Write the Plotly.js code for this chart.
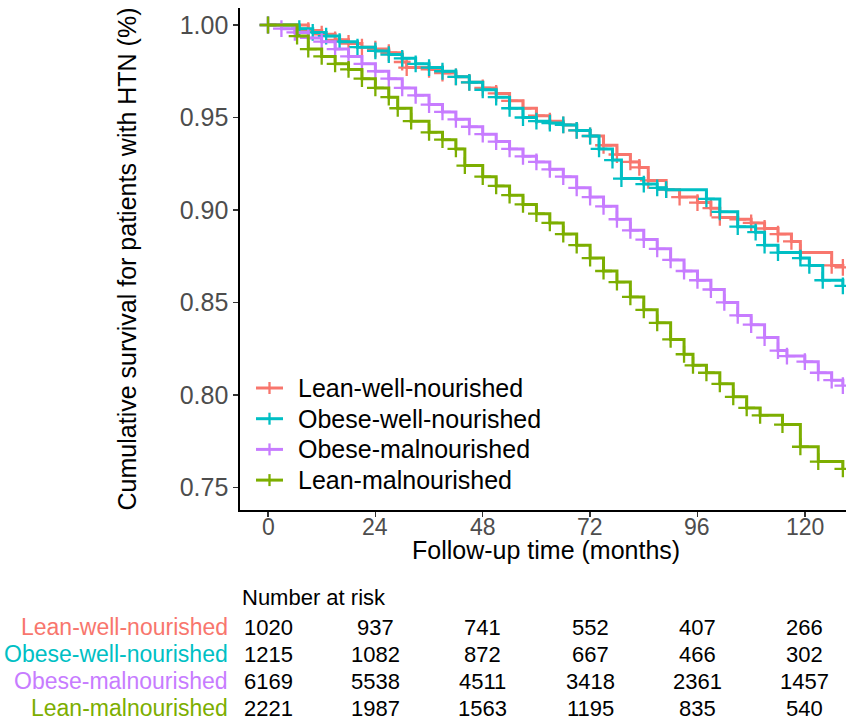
<!DOCTYPE html>
<html>
<head>
<meta charset="utf-8">
<script src="https://cdn.plot.ly/plotly-3.0.1.min.js"></script>
<style>html,body{margin:0;padding:0;background:#fff;}#chart{width:851px;height:720px;}</style>
</head>
<body>
<div id="chart"></div>
<script>
// ---- Data ----
const groupNames = ["Lean-well-nourished", "Obese-well-nourished", "Obese-malnourished", "Lean-malnourished"];
const groupColors = ["#F8766D", "#00BFC4", "#C77CFF", "#7CAE00"];

const leanWellT = [0, 9, 12, 15, 18, 21, 24, 27, 30, 31, 36, 39, 42, 45, 48, 51, 54, 57, 60, 63, 66, 69, 72, 75, 78, 81, 83, 85, 89, 92, 96, 99, 101, 105, 108, 111, 114, 117, 119, 126, 128.5];
const leanWellS = [1.000, 0.997, 0.995, 0.992, 0.990, 0.988, 0.987, 0.985, 0.980, 0.977, 0.976, 0.974, 0.972, 0.969, 0.966, 0.963, 0.959, 0.955, 0.951, 0.948, 0.946, 0.943, 0.940, 0.935, 0.930, 0.926, 0.923, 0.916, 0.911, 0.907, 0.904, 0.901, 0.896, 0.895, 0.893, 0.890, 0.887, 0.883, 0.877, 0.870, 0.869];

const obeseWellT = [0, 7, 10, 13, 16, 20, 24, 27, 30, 33, 36, 39, 42, 45, 48, 51, 54, 57, 60, 63, 66, 69, 72, 74, 77, 79, 84, 87, 89, 98, 101, 105, 109, 111, 114, 119, 121, 124, 128.5];
const obeseWellS = [1.000, 0.998, 0.996, 0.994, 0.991, 0.988, 0.986, 0.984, 0.982, 0.979, 0.977, 0.975, 0.972, 0.969, 0.965, 0.961, 0.955, 0.950, 0.948, 0.947, 0.946, 0.943, 0.940, 0.933, 0.927, 0.917, 0.914, 0.912, 0.911, 0.906, 0.899, 0.891, 0.888, 0.881, 0.877, 0.874, 0.870, 0.862, 0.859];

const obeseMalT = [0, 3, 6, 9, 12, 15, 18, 21, 24, 27, 30, 33, 36, 39, 42, 45, 48, 51, 54, 57, 60, 63, 66, 69, 72, 75, 78, 81, 84, 87, 90, 93, 96, 99, 102, 105, 108, 111, 114, 116, 120, 123, 126, 128.5];
const obeseMalS = [1.000, 0.998, 0.996, 0.993, 0.991, 0.987, 0.983, 0.979, 0.975, 0.971, 0.966, 0.962, 0.957, 0.953, 0.949, 0.945, 0.941, 0.937, 0.933, 0.929, 0.926, 0.922, 0.918, 0.912, 0.907, 0.902, 0.895, 0.889, 0.884, 0.879, 0.873, 0.867, 0.862, 0.857, 0.850, 0.843, 0.838, 0.831, 0.824, 0.821, 0.818, 0.812, 0.808, 0.805];

const leanMalT = [0, 6.5, 9, 12, 15, 18, 21, 24, 27, 29, 32, 36, 39, 42, 44, 48, 51, 54, 57, 60, 63, 66, 69, 72, 75, 78, 81, 84, 87, 90, 93, 95, 98, 101, 104, 107, 110, 115, 119, 123, 128.5];
const leanMalS = [1.000, 0.994, 0.987, 0.983, 0.979, 0.976, 0.971, 0.966, 0.961, 0.955, 0.948, 0.942, 0.938, 0.933, 0.924, 0.918, 0.913, 0.908, 0.903, 0.898, 0.893, 0.887, 0.881, 0.874, 0.867, 0.861, 0.853, 0.846, 0.839, 0.830, 0.822, 0.816, 0.812, 0.806, 0.799, 0.793, 0.789, 0.784, 0.772, 0.764, 0.760];

const riskTimes = [0, 24, 48, 72, 96, 120];
const riskLeanWell = [1020, 937, 741, 552, 407, 266];
const riskObeseWell = [1215, 1082, 872, 667, 466, 302];
const riskObeseMal = [6169, 5538, 4511, 3418, 2361, 1457];
const riskLeanMal = [2221, 1987, 1563, 1195, 835, 540];

const yTickVals = [0.75, 0.80, 0.85, 0.90, 0.95, 1.00];

// ---- Build traces ----
const seriesT = [leanWellT, obeseWellT, obeseMalT, leanMalT];
const seriesS = [leanWellS, obeseWellS, obeseMalS, leanMalS];
const riskRows = [riskLeanWell, riskObeseWell, riskObeseMal, riskLeanMal];

const FONT = "Liberation Sans, Arial, Helvetica, sans-serif";

const traces = groupNames.map((name, i) => ({
  type: "scatter",
  mode: "lines+markers",
  name: name,
  x: seriesT[i],
  y: seriesS[i],
  line: {shape: "hv", color: groupColors[i], width: 3},
  marker: {symbol: "cross-thin-open", size: 12, color: groupColors[i], line: {color: groupColors[i], width: 2.3}},
  showlegend: false,
  hoverinfo: "skip"
}));

// ---- Plot geometry helpers (pixel -> paper) ----
const L = 240, R = 5, T = 8, B = 210, W = 851, H = 720;
const pw = W - L - R, ph = H - T - B;
const px = X => (X - L) / pw;
const py = Y => (H - B - Y) / ph;

// ---- Legend drawn inside the plot (line + cross + label) ----
const annotations = [];
const shapes = [];
const legendY0 = 388, legendStep = 30.7;
groupNames.forEach((name, i) => {
  const Y = legendY0 + legendStep * i;
  shapes.push({type: "line", xref: "paper", yref: "paper", x0: px(256), x1: px(283), y0: py(Y), y1: py(Y),
    line: {color: groupColors[i], width: 3}});
  shapes.push({type: "line", xref: "paper", yref: "paper", x0: px(269.5), x1: px(269.5), y0: py(Y - 6), y1: py(Y + 6),
    line: {color: groupColors[i], width: 2.3}});
  annotations.push({xref: "paper", yref: "paper", x: px(296), y: py(Y), xanchor: "left", yanchor: "middle",
    text: name, showarrow: false, font: {family: FONT, size: 25, color: "#000"}});
});

// ---- x tick labels (placed as annotations at the tick values) ----
riskTimes.forEach(t => {
  annotations.push({xref: "x", yref: "paper", x: t, y: py(527), xanchor: "center", yanchor: "middle",
    text: String(t), showarrow: false, font: {family: FONT, size: 23, color: "#4D4D4D"}});
});

// x-axis title
annotations.push({
  xref: "paper", yref: "paper", x: px(546), y: py(550), xanchor: "center", yanchor: "middle",
  text: "Follow-up time (months)", showarrow: false, font: {family: FONT, size: 25, color: "#000"}
});

// ---- Risk table as annotations ----
const rowY = [627, 654, 681, 708];
annotations.push({
  xref: "paper", yref: "paper", x: 0, y: py(597), xanchor: "left", yanchor: "middle",
  text: "Number at risk", showarrow: false, font: {family: FONT, size: 22, color: "#000"}
});
groupNames.forEach((name, i) => {
  annotations.push({
    xref: "paper", yref: "paper", x: px(230), y: py(rowY[i]), xanchor: "right", yanchor: "middle",
    text: name, showarrow: false, font: {family: FONT, size: 23, color: groupColors[i]}
  });
  riskTimes.forEach((t, j) => {
    annotations.push({
      xref: "x", yref: "paper", x: t, y: py(rowY[i]), xanchor: "center", yanchor: "middle",
      text: String(riskRows[i][j]), showarrow: false, font: {family: FONT, size: 22, color: "#000"}
    });
  });
});

const layout = {
  width: W, height: H,
  margin: {l: L, r: R, t: T, b: B},
  paper_bgcolor: "#fff", plot_bgcolor: "#fff",
  font: {family: FONT, color: "#000"},
  showlegend: false,
  xaxis: {
    range: [-6.26, 129.2],
    tickvals: riskTimes, showticklabels: false,
    ticks: "outside", ticklen: 5, tickwidth: 1.5, tickcolor: "#333",
    showline: true, linecolor: "#000", linewidth: 1.6,
    showgrid: false, zeroline: false
  },
  yaxis: {
    range: [0.7378, 1.0092],
    tickvals: yTickVals, ticktext: yTickVals.map(v => v.toFixed(2)),
    ticks: "outside", ticklen: 5, tickwidth: 1.5, tickcolor: "#333",
    showline: true, linecolor: "#000", linewidth: 1.6,
    showgrid: false, zeroline: false,
    tickfont: {family: FONT, size: 25, color: "#4D4D4D"},
    title: {text: "Cumulative survival for patients with HTN (%)", font: {family: FONT, size: 25, color: "#000"}, standoff: 36}
  },
  shapes: shapes,
  annotations: annotations
};

Plotly.newPlot("chart", traces, layout, {staticPlot: true, displayModeBar: false});
</script>
</body>
</html>
